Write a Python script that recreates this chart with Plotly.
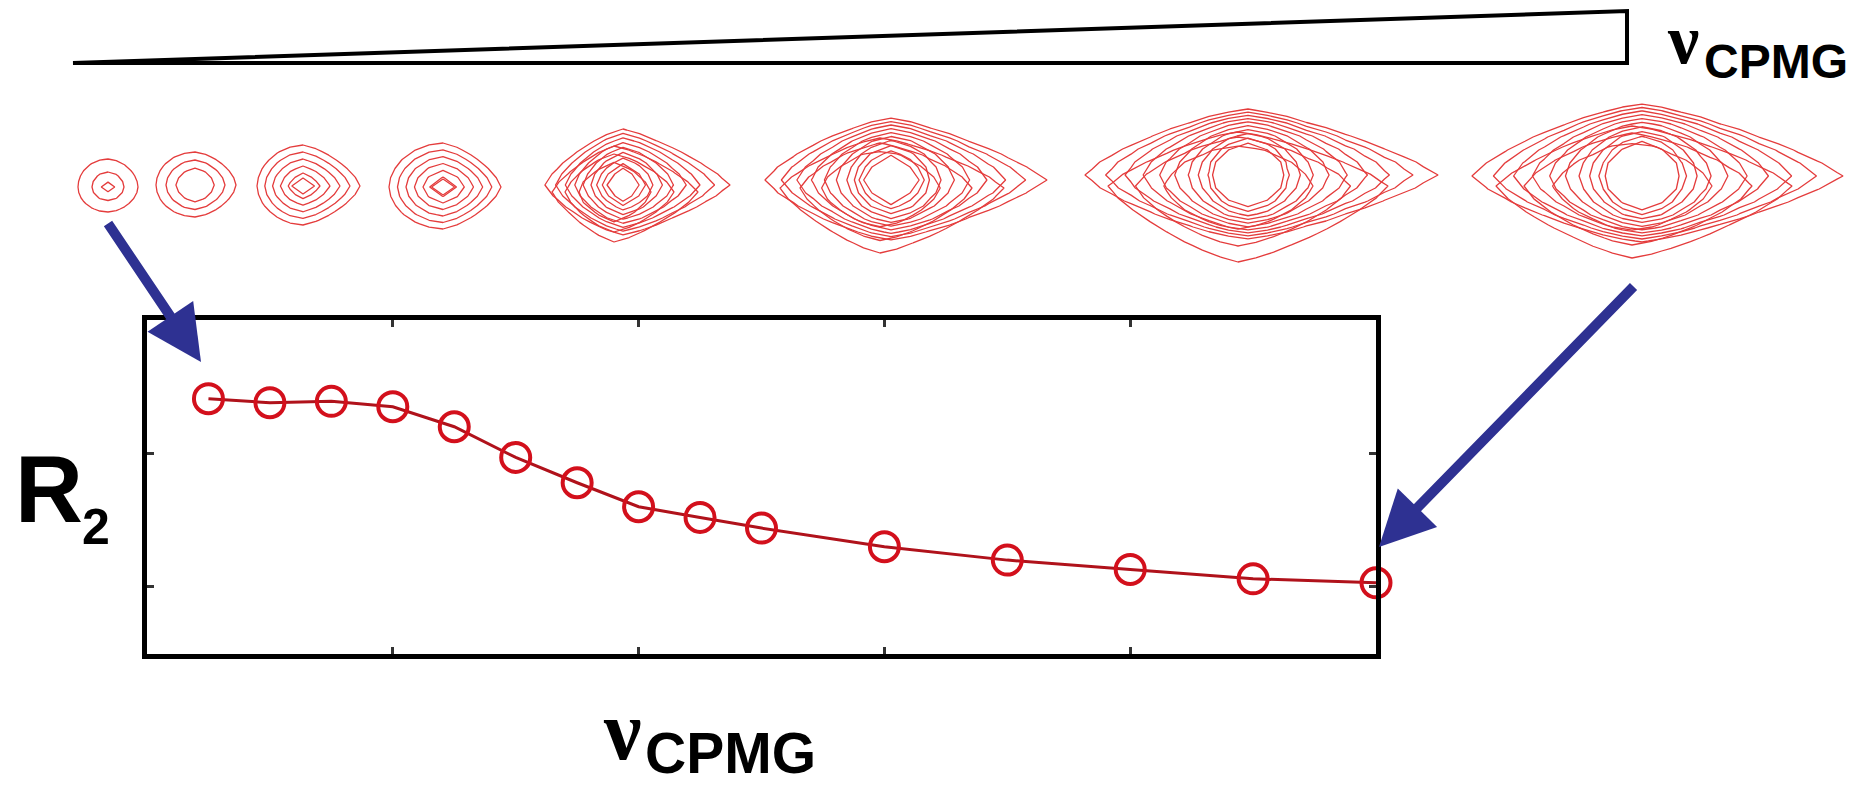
import numpy as np
import plotly.graph_objects as go

W, H = 1859, 788

# ---- R2 relaxation dispersion profile ----
nu_cpmg = [50, 100, 150, 200, 250, 300, 350, 400, 450, 500, 600, 700, 800, 900, 1000]
r2 = [24.1, 23.8, 23.9, 23.5, 22.0, 19.7, 17.8, 16.0, 15.2, 14.4, 13.0, 12.0, 11.3, 10.6, 10.3]
x_ticks = [200, 400, 600, 800]
y_ticks = [10, 20]

# ---- 2D peak series (strip coordinates), main contour family ----
pk_x       = [108, 195, 303, 443, 623, 891, 1248, 1642]
pk_y       = [187, 185, 186, 187, 185, 180, 175, 176]
pk_in_w    = [2, 19, 7, 3, 16, 24, 35, 37]
pk_in_h    = [2, 17, 6, 3, 13, 22, 30, 32]
pk_left    = [30, 39, 46, 54, 78, 126, 163, 170]
pk_right   = [30, 41, 57, 58, 107, 156, 190, 201]
pk_up      = [28, 33, 41, 44, 56, 62, 66, 72]
pk_down    = [25, 32, 39, 42, 50, 60, 64, 66]
pk_p_in    = [2.0, 1.7, 1.4, 1.6, 1.7, 1.9, 1.9, 1.9]
pk_p_left  = [2.0, 2.0, 1.9, 1.9, 1.3, 1.3, 1.3, 1.3]
pk_p_right = [1.8, 1.6, 1.4, 1.4, 1.2, 1.2, 1.2, 1.2]
pk_nlev    = [3, 3, 6, 7, 9, 10, 10, 10]
pk_gw      = [1.0, 1.0, 1.0, 1.0, 1.4, 1.5, 1.5, 1.5]   # width growth across levels
pk_gh      = [1.0, 1.0, 1.0, 1.0, 0.8, 0.75, 0.75, 0.75]  # height growth across levels

# second (overlapping, lower) family for the four broad peaks
b_x     = [614, 880, 1238, 1632]
b_y     = [192, 188, 186, 186]
b_in_w  = [36, 60, 75, 80]
b_in_h  = [30, 40, 44, 46]
b_left  = [62, 100, 130, 136]
b_right = [84, 124, 150, 160]
b_up    = [46, 50, 54, 60]
b_down  = [50, 65, 76, 72]
b_p_in  = [1.5, 1.5, 1.5, 1.5]
b_p_out = [1.25, 1.25, 1.25, 1.25]
b_nlev  = [3, 3, 3, 3]

RED_C = "#e43c3c"
RED_M = "#d3101c"
RED_L = "#b0121b"
BLUE = "#2e3192"


def ring_field(cx, cy, win, hin, left, right, up, down, p_in, p_left, p_right, gw=1.0, gh=1.0):
    # coarse sampling grid, aligned on the peak centre
    sy = float(np.clip(0.22 * min(up, down), 5.5, 13.0))
    sx = 1.5 * sy
    nl = int(np.ceil((left * 1.3) / sx)) + 2
    nr = int(np.ceil((right * 1.3) / sx)) + 2
    nu = int(np.ceil((up * 1.3) / sy)) + 2
    nd = int(np.ceil((down * 1.3) / sy)) + 2
    xs = cx + sx * np.arange(-nl, nr + 1)
    ys = cy + sy * np.arange(-nu, nd + 1)
    X, Y = np.meshgrid(xs, ys)
    dx, dy = X - cx, Y - cy
    adx, ady = np.abs(dx), np.abs(dy)
    wout = np.where(dx < 0, left, right)
    hout = np.where(dy < 0, up, down)
    pout = np.where(dx < 0, p_left, p_right)
    lo = np.full(X.shape, -1.0)
    hi = np.full(X.shape, 2.0)
    for _ in range(40):
        t = 0.5 * (lo + hi)
        tp = np.clip(t, 0, None)
        fw = np.where(tp <= 1, tp ** gw, 1 + gw * (tp - 1))
        fh = np.where(tp <= 1, tp ** gh, 1 + gh * (tp - 1))
        w = np.where(t < 0, win * (1 + t), win + fw * (wout - win))
        h = np.where(t < 0, hin * (1 + t), hin + fh * (hout - hin))
        p = p_in + np.clip(t, 0, 1) * (pout - p_in)
        g = (adx / np.maximum(w, 1e-9)) ** p + (ady / np.maximum(h, 1e-9)) ** p
        inside = g <= 1
        hi = np.where(inside, t, hi)
        lo = np.where(inside, lo, t)
    return xs, ys, 0.5 * (lo + hi)


def contour_trace(xs, ys, z, n):
    return go.Contour(
        x=xs, y=ys, z=z, xaxis="x2", yaxis="y2",
        autocontour=False,
        contours=dict(start=0.0, end=1.0 + 1e-6, size=1.0 / (n - 1), coloring="lines"),
        line=dict(width=1.3, smoothing=0),
        colorscale=[[0, RED_C], [1, RED_C]],
        showscale=False, hoverinfo="skip",
    )


fig = go.Figure()

for i in range(len(pk_x)):
    xs, ys, z = ring_field(pk_x[i], pk_y[i], pk_in_w[i], pk_in_h[i], pk_left[i], pk_right[i],
                           pk_up[i], pk_down[i], pk_p_in[i], pk_p_left[i], pk_p_right[i],
                           pk_gw[i], pk_gh[i])
    fig.add_trace(contour_trace(xs, ys, z, pk_nlev[i]))

for i in range(len(b_x)):
    xs, ys, z = ring_field(b_x[i], b_y[i], b_in_w[i], b_in_h[i], b_left[i], b_right[i],
                           b_up[i], b_down[i], b_p_in[i], b_p_out[i], b_p_out[i])
    fig.add_trace(contour_trace(xs, ys, z, b_nlev[i]))

fig.add_trace(go.Scatter(
    x=nu_cpmg, y=r2, mode="lines+markers",
    line=dict(color=RED_L, width=3),
    marker=dict(symbol="circle-open", size=29, color=RED_M, line=dict(width=4, color=RED_M)),
    cliponaxis=False, hoverinfo="skip", showlegend=False,
))

axis_common = dict(showgrid=False, zeroline=False, showline=True, linecolor="black", linewidth=5,
                   mirror="ticks", ticks="inside", ticklen=7, tickwidth=3, tickcolor="#333",
                   showticklabels=False)

fig.update_layout(
    width=W, height=H,
    margin=dict(l=0, r=0, t=0, b=0),
    paper_bgcolor="white", plot_bgcolor="rgba(0,0,0,0)",
    showlegend=False,
    xaxis=dict(domain=[147 / W, 1376 / W], range=[0, 1000], tickvals=x_ticks, **axis_common),
    yaxis=dict(domain=[1 - 653.5 / H, 1 - 320 / H], range=[5, 30], tickvals=y_ticks, **axis_common),
    xaxis2=dict(domain=[0, 1], range=[0, W], visible=False, anchor="y2"),
    yaxis2=dict(domain=[0, 1], range=[H, 0], visible=False, anchor="x2"),
)

# increasing-frequency wedge
fig.add_shape(type="path", xref="x2", yref="y2",
              path="M 73,63 L 1627,11 L 1627,63 Z",
              line=dict(color="black", width=4), fillcolor="rgba(0,0,0,0)")

# arrows linking the first and last spectra to the profile
for tail, tip in [((107, 222), (201, 362)), ((1635, 285), (1379, 547))]:
    fig.add_annotation(x=tip[0], y=tip[1], ax=tail[0], ay=tail[1],
                       xref="x2", yref="y2", axref="x2", ayref="y2",
                       text="", showarrow=True, arrowhead=2, arrowsize=1.1,
                       arrowwidth=10, arrowcolor=BLUE, standoff=0)

SANS = "Liberation Sans, Arial"
SERIF = "Liberation Serif, Times New Roman"


def label(x, y, text, family, size):
    fig.add_annotation(x=x, y=y, xref="x2", yref="y2", text=text, showarrow=False,
                       xanchor="left", yanchor="middle",
                       font=dict(family=family, size=size, color="black", weight="bold"))


label(13, 489, "R", SANS, 94)
label(80, 527, "2", SANS, 50)
label(601, 730, "ν", SERIF, 84)
label(643, 753, "CPMG", SANS, 57)
label(1665, 39, "ν", SERIF, 70)
label(1702, 61, "CPMG", SANS, 48)

fig.write_html("out.html")
